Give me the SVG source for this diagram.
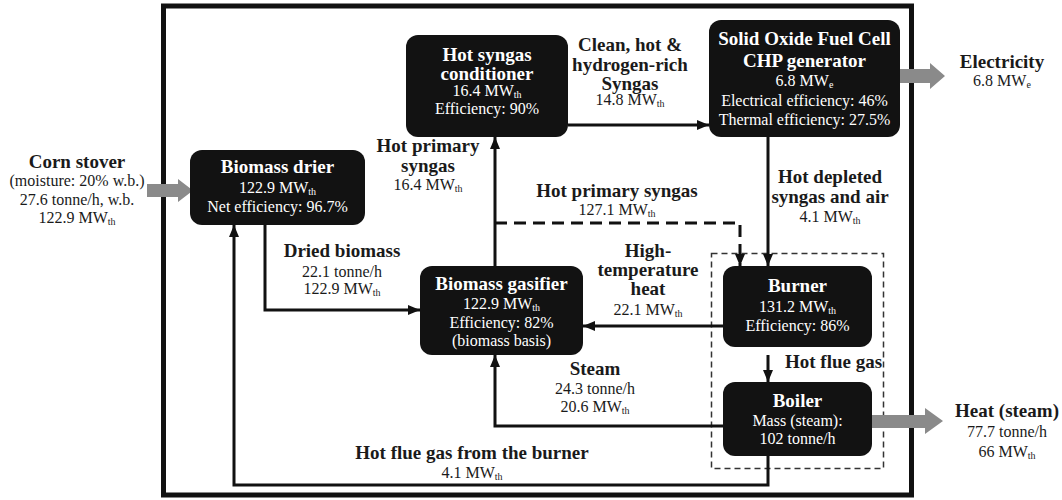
<svg xmlns="http://www.w3.org/2000/svg" width="1062" height="500" viewBox="0 0 1062 500">
<style>
  .node { fill: #121212; }
  .b { font-family: "Liberation Serif", "Times New Roman", serif; font-weight: bold; font-size: 19px; text-anchor: middle; }
  .r { font-family: "Liberation Serif", "Times New Roman", serif; font-size: 16px; text-anchor: middle; }
  .w { fill: #ffffff; }
  .k { fill: #1a1a1a; }
  .sub { font-size: 10px; }
  .conn { fill: none; stroke: #111; stroke-width: 3; }
  .dash { stroke-dasharray: 12 7; }
  .gray { fill: #8a8a8a; }
</style>
<defs>
  <marker id="ah" markerUnits="userSpaceOnUse" markerWidth="12" markerHeight="10" refX="12" refY="5" orient="auto">
    <path d="M0,0 L12,5 L0,10 z" fill="#111"/>
  </marker>
</defs>
<rect x="163.5" y="6" width="748" height="489" fill="none" stroke="#111" stroke-width="5"/>
<rect x="711.5" y="253.5" width="172" height="215" fill="none" stroke="#333" stroke-width="1.5" stroke-dasharray="6 4"/>

<g id="connectors">
  <path class="conn" d="M265,225 V310 H420" marker-end="url(#ah)"/>
  <path class="conn" d="M768,456 V485 H234 V225" marker-end="url(#ah)"/>
  <path class="conn" d="M495,266 V137" marker-end="url(#ah)"/>
  <path class="conn dash" d="M495,223 H740 V266" marker-end="url(#ah)"/>
  <path class="conn" d="M568,125 H709" marker-end="url(#ah)"/>
  <path class="conn" d="M768,137 V266" marker-end="url(#ah)"/>
  <path class="conn" d="M723,326 H583" marker-end="url(#ah)"/>
  <path class="conn" d="M768,355 V382" marker-end="url(#ah)"/>
  <path class="conn" d="M723,426 H495 V355" marker-end="url(#ah)"/>
  <polygon class="gray" points="147,184 178,184 178,179 193,190.5 178,202 178,197 147,197"/>
  <polygon class="gray" points="898,69 930,69 930,63 945,76 930,89 930,83 898,83"/>
  <polygon class="gray" points="868,415 925,415 925,408 943,421 925,434 925,428 868,428"/>
</g>

<g id="labels">
  <text class="b k" x="77" y="168">Corn stover</text>
  <text class="r k" x="77" y="186">(moisture: 20% w.b.)</text>
  <text class="r k" x="77" y="205">27.6 tonne/h, w.b.</text>
  <text class="r k" x="77" y="223">122.9 MW<tspan class="sub" dy="2">th</tspan></text>

  <text class="b k" x="1002" y="68">Electricity</text>
  <text class="r k" x="1002" y="86">6.8 MW<tspan class="sub" dy="2">e</tspan></text>

  <text class="b k" x="1007" y="417">Heat (steam)</text>
  <text class="r k" x="1007" y="437">77.7 tonne/h</text>
  <text class="r k" x="1007" y="457">66 MW<tspan class="sub" dy="2">th</tspan></text>

  <text class="b k" x="630" y="51">Clean, hot &amp;</text>
  <text class="b k" x="630" y="71">hydrogen-rich</text>
  <text class="b k" x="630" y="90">Syngas</text>
  <text class="r k" x="630" y="105">14.8 MW<tspan class="sub" dy="2">th</tspan></text>

  <text class="b k" x="428" y="152">Hot primary</text>
  <text class="b k" x="428" y="172">syngas</text>
  <text class="r k" x="428" y="190">16.4 MW<tspan class="sub" dy="2">th</tspan></text>

  <text class="b k" x="617" y="197">Hot primary syngas</text>
  <text class="r k" x="617" y="215">127.1 MW<tspan class="sub" dy="2">th</tspan></text>

  <text class="b k" x="830" y="183">Hot depleted</text>
  <text class="b k" x="830" y="203">syngas and air</text>
  <text class="r k" x="830" y="222">4.1 MW<tspan class="sub" dy="2">th</tspan></text>

  <text class="b k" x="648" y="257">High-</text>
  <text class="b k" x="648" y="276">temperature</text>
  <text class="b k" x="648" y="295">heat</text>
  <text class="r k" x="648" y="315">22.1 MW<tspan class="sub" dy="2">th</tspan></text>

  <text class="b k" x="342" y="257">Dried biomass</text>
  <text class="r k" x="342" y="277">22.1 tonne/h</text>
  <text class="r k" x="342" y="294">122.9 MW<tspan class="sub" dy="2">th</tspan></text>

  <text class="b k" x="595" y="375">Steam</text>
  <text class="r k" x="595" y="394">24.3 tonne/h</text>
  <text class="r k" x="595" y="412">20.6 MW<tspan class="sub" dy="2">th</tspan></text>

  <text class="b k" x="472" y="459">Hot flue gas from the burner</text>
  <text class="r k" x="472" y="478">4.1 MW<tspan class="sub" dy="2">th</tspan></text>

  <text class="b k" x="785" y="368" style="text-anchor:start">Hot flue gas</text>
</g>

<g id="biomass-drier">
  <rect class="node" x="190" y="150" width="175" height="75" rx="12"/>
  <text class="b w" x="277.5" y="173">Biomass drier</text>
  <text class="r w" x="277.5" y="193">122.9 MW<tspan class="sub" dy="2">th</tspan></text>
  <text class="r w" x="277.5" y="212">Net efficiency: 96.7%</text>
</g>

<g id="hot-syngas-conditioner">
  <rect class="node" x="406" y="35" width="162" height="102" rx="12"/>
  <text class="b w" x="487" y="61">Hot syngas</text>
  <text class="b w" x="487" y="80">conditioner</text>
  <text class="r w" x="487" y="96">16.4 MW<tspan class="sub" dy="2">th</tspan></text>
  <text class="r w" x="487" y="114">Efficiency: 90%</text>
</g>

<g id="sofc">
  <rect class="node" x="709" y="20" width="191" height="117" rx="12"/>
  <text class="b w" x="804.5" y="45">Solid Oxide Fuel Cell</text>
  <text class="b w" x="804.5" y="67">CHP generator</text>
  <text class="r w" x="804.5" y="86">6.8 MW<tspan class="sub" dy="2">e</tspan></text>
  <text class="r w" x="804.5" y="106">Electrical efficiency: 46%</text>
  <text class="r w" x="804.5" y="125">Thermal efficiency: 27.5%</text>
</g>

<g id="biomass-gasifier">
  <rect class="node" x="420" y="266" width="163" height="89" rx="12"/>
  <text class="b w" x="501.5" y="290">Biomass gasifier</text>
  <text class="r w" x="501.5" y="309">122.9 MW<tspan class="sub" dy="2">th</tspan></text>
  <text class="r w" x="501.5" y="328">Efficiency: 82%</text>
  <text class="r w" x="501.5" y="346">(biomass basis)</text>
</g>

<g id="burner">
  <rect class="node" x="723" y="266" width="149" height="81" rx="12"/>
  <text class="b w" x="797.5" y="292">Burner</text>
  <text class="r w" x="797.5" y="312">131.2 MW<tspan class="sub" dy="2">th</tspan></text>
  <text class="r w" x="797.5" y="331">Efficiency: 86%</text>
</g>

<g id="boiler">
  <rect class="node" x="723" y="382" width="149" height="74" rx="12"/>
  <text class="b w" x="797.5" y="407">Boiler</text>
  <text class="r w" x="797.5" y="426">Mass (steam):</text>
  <text class="r w" x="797.5" y="444">102 tonne/h</text>
</g>
</svg>
